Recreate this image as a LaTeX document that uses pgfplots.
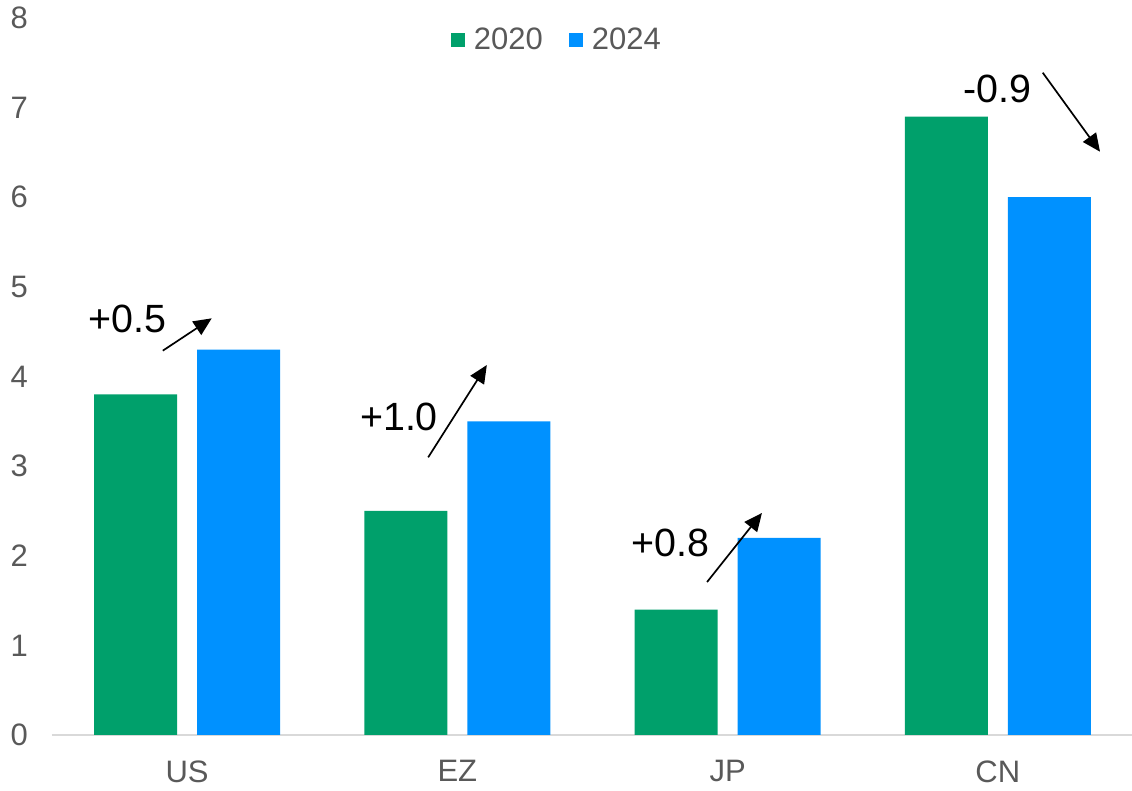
\documentclass[border=0pt]{standalone}
\usepackage{pgfplots}
\pgfplotsset{compat=1.18}
\usepackage{fontspec}
\setmainfont{Liberation Sans}
\usetikzlibrary{arrows.meta}
\definecolor{bargreen}{RGB}{0,160,107}
\definecolor{barblue}{RGB}{0,145,255}
\definecolor{txtgray}{RGB}{89,89,89}
\definecolor{axgray}{RGB}{217,217,217}
\begin{document}
\begin{tikzpicture}
\path[use as bounding box] (-26pt,-28pt) rectangle (540pt,367.5pt);
\begin{axis}[
  at={(0,0)}, anchor=south west,
  scale only axis, width=540.5pt, height=358.5pt,
  ybar, bar width=41.5pt,
  xmin=-0.5, xmax=3.5, ymin=0, ymax=8,
  xtick={0,1,2,3}, xticklabels={US,EZ,JP,CN},
  ytick={0,1,2,3,4,5,6,7,8},
  major tick length=0pt,
  axis x line*=bottom, axis y line*=left,
  x axis line style={draw=axgray, line width=0.9pt, -},
  y axis line style={draw=none},
  tick label style={font=\fontsize{15.5}{18}\selectfont, text=txtgray},
  /pgf/number format/assume math mode=true,
  yticklabel style={xshift=-8.5pt},
  xticklabel style={yshift=-9.3pt},
  clip=false,
  legend columns=2,
  legend style={at={(0.468,0.969)}, anchor=center, draw=none, fill=none,
    font=\fontsize{15.5}{18}\selectfont, text=txtgray,
    /tikz/every odd column/.append style={column sep=2.5pt},
    /tikz/every even column/.append style={column sep=11pt}},
  legend image code/.code={\fill[#1] (0pt,-3.5pt) rectangle (7pt,3.5pt);},
]
\addplot[fill=bargreen, draw=none, bar shift=-25.75pt] coordinates {(0,3.8) (1,2.5) (2,1.4) (3,6.9)};
\addplot[fill=barblue, draw=none, bar shift=25.75pt] coordinates {(0,4.3) (1,3.5) (2,2.2) (3,6.0)};
\legend{2020,2024}
\begin{scope}[font=\fontsize{19.7}{23}\selectfont]
\node at (axis cs:-0.221,4.647) {+0.5};
\node at (axis cs:0.784,3.554) {+1.0};
\node at (axis cs:1.787,2.148) {+0.8};
\node at (axis cs:2.999,7.208) {-0.9};
\end{scope}
\begin{scope}[line width=0.85pt, -{Triangle[length=9pt,width=8pt]}]
\draw (axis cs:-0.090,4.288) -- (axis cs:0.091,4.649);
\draw (axis cs:0.892,3.098) -- (axis cs:1.109,4.128);
\draw (axis cs:1.924,1.707) -- (axis cs:2.127,2.477);
\draw (axis cs:3.166,7.390) -- (axis cs:3.378,6.508);
\end{scope}
\end{axis}
\end{tikzpicture}
\end{document}
